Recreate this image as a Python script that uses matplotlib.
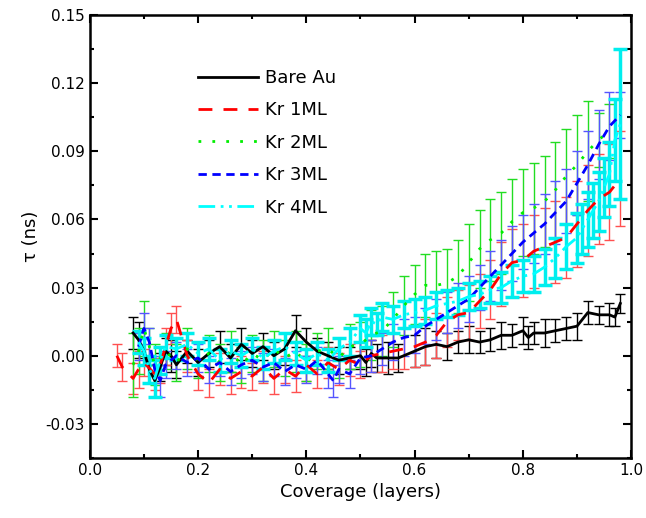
import matplotlib.pyplot as plt
from matplotlib.ticker import MultipleLocator

# Bare Au
bare_x = [0.08,0.09,0.10,0.11,0.12,0.13,0.14,0.15,0.16,0.18,0.20,0.22,0.24,0.26,0.28,0.30,0.32,0.34,0.36,0.38,
          0.40,0.42,0.44,0.46,0.48,0.50,0.51,0.52,0.53,0.55,0.57,0.60,0.62,0.64,0.66,0.68,0.70,0.72,0.74,0.76,
          0.78,0.80,0.81,0.82,0.84,0.86,0.88,0.90,0.92,0.94,0.96,0.97,0.98]
bare_y = [0.010,0.007,0.002,-0.006,-0.011,-0.005,0.002,0.000,-0.004,0.002,-0.003,0.001,0.004,-0.001,0.005,0.001,0.004,0.000,0.003,0.011,
          0.006,0.002,0.000,-0.002,-0.001,0.000,-0.003,0.001,-0.001,-0.001,-0.001,0.002,0.004,0.005,0.004,0.006,0.007,0.006,0.007,0.009,
          0.009,0.011,0.008,0.010,0.010,0.011,0.012,0.013,0.019,0.018,0.018,0.017,0.023]
bare_err = [0.007,0.008,0.006,0.006,0.007,0.006,0.006,0.007,0.006,0.005,0.006,0.006,0.007,0.006,0.007,0.006,0.006,0.006,0.007,0.007,
            0.006,0.006,0.006,0.006,0.005,0.006,0.006,0.006,0.006,0.007,0.006,0.007,0.008,0.006,0.006,0.005,0.006,0.005,0.005,0.006,
            0.005,0.006,0.005,0.005,0.006,0.005,0.005,0.006,0.005,0.004,0.005,0.004,0.004]

# Kr 1ML
kr1_x = [0.05,0.06,0.08,0.09,0.10,0.12,0.13,0.14,0.15,0.16,0.18,0.20,0.22,0.24,0.26,0.28,0.30,0.32,0.34,0.36,
         0.38,0.40,0.42,0.44,0.46,0.48,0.50,0.52,0.54,0.56,0.58,0.60,0.62,0.64,0.66,0.68,0.70,0.72,0.74,0.76,
         0.78,0.80,0.82,0.84,0.86,0.88,0.90,0.92,0.94,0.96,0.98]
kr1_y = [0.000,-0.005,-0.010,-0.006,-0.003,-0.008,-0.004,0.004,0.012,0.016,0.000,-0.008,-0.012,-0.006,-0.010,-0.007,-0.009,-0.005,-0.010,-0.006,
         -0.009,-0.004,-0.008,-0.003,-0.006,-0.002,-0.004,0.000,0.001,0.002,0.003,0.004,0.006,0.009,0.015,0.018,0.019,0.024,0.029,0.036,
         0.041,0.042,0.046,0.048,0.050,0.052,0.058,0.064,0.069,0.072,0.078]
kr1_err = [0.005,0.006,0.007,0.008,0.006,0.007,0.008,0.008,0.007,0.006,0.007,0.007,0.006,0.007,0.007,0.007,0.006,0.007,0.007,0.006,
           0.007,0.007,0.006,0.007,0.007,0.007,0.006,0.007,0.008,0.008,0.009,0.009,0.010,0.010,0.011,0.011,0.012,0.012,0.013,0.014,
           0.015,0.016,0.016,0.017,0.018,0.018,0.019,0.020,0.020,0.021,0.021]

# Kr 2ML
kr2_x = [0.08,0.09,0.10,0.11,0.12,0.14,0.16,0.18,0.20,0.22,0.24,0.26,0.28,0.30,0.32,0.34,0.36,0.38,0.40,0.42,
         0.44,0.46,0.48,0.50,0.52,0.54,0.56,0.58,0.60,0.62,0.64,0.66,0.68,0.70,0.72,0.74,0.76,0.78,0.80,0.82,
         0.84,0.86,0.88,0.90,0.92,0.94,0.96]
kr2_y = [-0.004,0.002,0.012,0.004,-0.004,0.002,-0.003,0.003,-0.002,0.001,-0.003,0.002,-0.004,0.001,-0.002,0.003,-0.001,0.002,-0.003,0.002,
         0.003,-0.001,0.004,0.005,0.009,0.011,0.016,0.022,0.027,0.031,0.031,0.032,0.035,0.041,0.047,0.051,0.054,0.059,0.063,0.065,
         0.068,0.073,0.079,0.084,0.090,0.095,0.099]
kr2_err = [0.014,0.010,0.012,0.008,0.009,0.008,0.008,0.009,0.008,0.008,0.008,0.009,0.008,0.008,0.009,0.008,0.008,0.009,0.008,0.008,
           0.009,0.009,0.010,0.010,0.011,0.011,0.012,0.013,0.013,0.014,0.015,0.015,0.016,0.017,0.017,0.018,0.018,0.019,0.019,0.020,
           0.020,0.021,0.021,0.022,0.022,0.012,0.012]

# Kr 3ML
kr3_x = [0.09,0.10,0.11,0.12,0.13,0.14,0.16,0.18,0.20,0.22,0.24,0.26,0.28,0.30,0.32,0.34,0.36,0.38,0.40,0.42,
         0.44,0.45,0.46,0.48,0.50,0.52,0.54,0.56,0.58,0.60,0.62,0.64,0.66,0.68,0.70,0.72,0.74,0.76,0.78,0.80,
         0.82,0.84,0.86,0.88,0.90,0.92,0.94,0.96,0.98]
kr3_y = [0.004,0.012,0.006,-0.006,-0.011,-0.004,0.000,-0.003,-0.001,-0.006,-0.003,-0.007,-0.004,-0.002,-0.005,-0.003,-0.007,-0.004,-0.006,-0.002,
         -0.008,-0.011,-0.006,-0.008,-0.001,0.000,0.003,0.006,0.008,0.009,0.013,0.016,0.019,0.022,0.025,0.030,0.035,0.040,0.045,0.050,
         0.054,0.058,0.063,0.068,0.076,0.084,0.093,0.101,0.106]
kr3_err = [0.006,0.007,0.006,0.006,0.007,0.006,0.006,0.006,0.006,0.006,0.006,0.006,0.006,0.006,0.006,0.006,0.006,0.006,0.006,0.006,
           0.006,0.007,0.006,0.006,0.007,0.007,0.007,0.008,0.008,0.008,0.008,0.009,0.009,0.010,0.010,0.010,0.011,0.011,0.012,0.012,
           0.013,0.013,0.014,0.014,0.014,0.015,0.015,0.015,0.010]

# Kr 4ML
kr4_x = [0.09,0.10,0.11,0.12,0.13,0.14,0.16,0.18,0.20,0.22,0.24,0.26,0.28,0.30,0.32,0.34,0.36,0.38,0.40,0.42,
         0.44,0.46,0.48,0.50,0.51,0.52,0.53,0.54,0.56,0.58,0.60,0.62,0.64,0.66,0.68,0.70,0.72,0.74,0.76,0.78,
         0.80,0.82,0.84,0.86,0.88,0.90,0.91,0.92,0.93,0.94,0.95,0.96,0.97,0.98]
kr4_y = [0.006,0.002,-0.006,-0.010,-0.002,0.004,0.003,0.005,0.001,0.003,-0.002,0.002,0.000,0.003,-0.001,0.002,0.004,0.001,-0.002,0.001,
         -0.002,0.003,0.006,0.012,0.010,0.015,0.014,0.017,0.016,0.018,0.019,0.020,0.022,0.023,0.024,0.026,0.027,0.029,0.030,0.033,
         0.035,0.036,0.039,0.043,0.048,0.052,0.056,0.060,0.064,0.068,0.074,0.080,0.095,0.102]
kr4_err = [0.005,0.006,0.006,0.008,0.006,0.005,0.005,0.005,0.005,0.005,0.005,0.005,0.005,0.005,0.005,0.005,0.006,0.005,0.005,0.005,
           0.005,0.005,0.006,0.006,0.006,0.006,0.005,0.006,0.006,0.006,0.006,0.006,0.006,0.006,0.006,0.006,0.006,0.006,0.007,0.007,
           0.007,0.008,0.008,0.009,0.010,0.011,0.011,0.012,0.012,0.013,0.013,0.014,0.018,0.033]

fig = plt.figure(figsize=(6.46, 5.18), dpi=100)
ax = fig.add_axes([0.139, 0.116, 0.838, 0.855])

series = [
    (bare_x, bare_y, bare_err, 'Bare Au', 'black', '-', 'black', 1.0, 3.5),
    (kr1_x, kr1_y, kr1_err, 'Kr 1ML', '#ff0000', (0, (5, 4)), '#ff5050', 1.0, 3.5),
    (kr2_x, kr2_y, kr2_err, 'Kr 2ML', '#00ee00', (0, (1, 4)), '#22dd22', 1.0, 3.5),
    (kr3_x, kr3_y, kr3_err, 'Kr 3ML', '#0000ff', (0, (3, 2)), '#5555ff', 1.0, 3.5),
    (kr4_x, kr4_y, kr4_err, 'Kr 4ML', '#00ffff', (0, (6, 2, 1, 2, 1, 2)), '#00eeee', 2.5, 5),
]

handles = []
labels = []
for x, y, e, name, col, ls, ecol, elw, cap in series:
    c = ax.errorbar(x, y, yerr=e, color=col, ls=ls, lw=2, ecolor=ecol,
                    elinewidth=elw, capsize=cap, capthick=elw)
    handles.append(c.lines[0])
    labels.append(name)

ax.set_xlim(0, 1.0)
ax.set_ylim(-0.045, 0.15)
ax.xaxis.set_major_locator(MultipleLocator(0.2))
ax.xaxis.set_minor_locator(MultipleLocator(0.1))
ax.yaxis.set_major_locator(MultipleLocator(0.03))
ax.yaxis.set_minor_locator(MultipleLocator(0.015))
ax.yaxis.set_major_formatter(plt.FormatStrFormatter('%.2f'))
ax.xaxis.set_major_formatter(plt.FormatStrFormatter('%.1f'))
ax.tick_params(which='both', direction='in', top=True, right=True, labelsize=11, width=1.5)
ax.tick_params(which='major', length=6)
ax.tick_params(which='minor', length=3)
for s in ax.spines.values():
    s.set_linewidth(1.8)

ax.set_xlabel('Coverage (layers)', fontsize=13)
ax.set_ylabel('τ (ns)', fontsize=13)

ax.legend(handles, labels, loc='upper left', bbox_to_anchor=(0.17, 0.915), frameon=False,
          fontsize=13, handlelength=3.3, labelspacing=0.8, handletextpad=0.4)

fig.savefig('out.png', dpi=100)
